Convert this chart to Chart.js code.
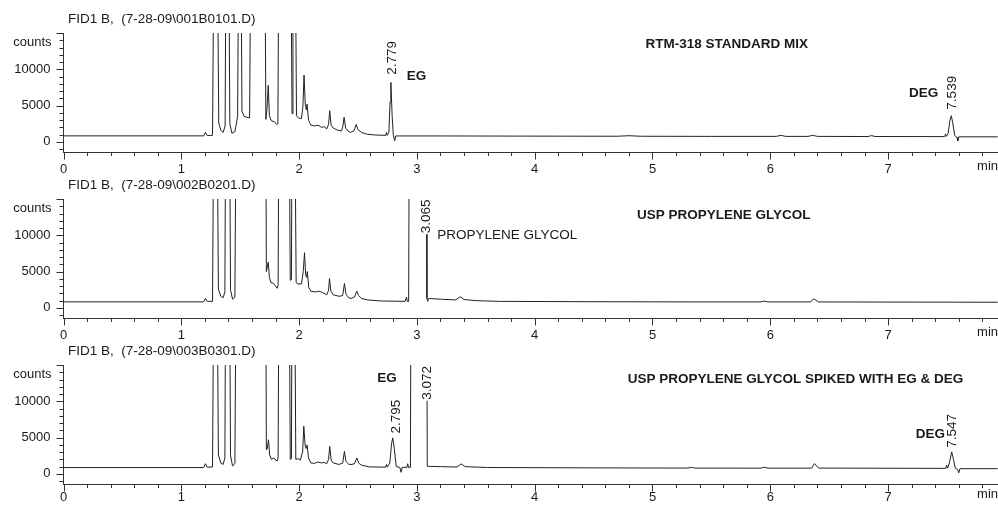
<!DOCTYPE html>
<html><head><meta charset="utf-8">
<script src="https://cdn.jsdelivr.net/npm/chart.js@4.4.1/dist/chart.umd.min.js"></script>
<style>
html,body{margin:0;padding:0;background:#fff;overflow:hidden;width:998px;height:506px;}
.p{position:absolute;left:0;width:998px;}
canvas{display:block;}
</style></head><body>
<div class="p" style="top:0px"><canvas id="c1" width="998" height="190"></canvas></div>
<div class="p" style="top:166px"><canvas id="c2" width="998" height="190"></canvas></div>
<div class="p" style="top:332px"><canvas id="c3" width="998" height="174"></canvas></div>
<script>
// ---- data (retention time in min, detector response in counts) ----
const OFF = 40000; // off-scale (clipped) peak tops
const run1Header = 'FID1 B,  (7-28-09\\001B0101.D)';
const run2Header = 'FID1 B,  (7-28-09\\002B0201.D)';
const run3Header = 'FID1 B,  (7-28-09\\003B0301.D)';
const xTickLabels = ['0','1','2','3','4','5','6','7'];
const yTickLabels = ['0','5000','10000'];
const xUnit = 'min';
const yUnit = 'counts';

const run1Time = [0,1.19,1.205,1.22,1.265,1.283,1.300,1.318,1.335,1.355,1.372,1.383,1.398,1.412,1.43,1.455,1.478,1.492,1.502,1.515,1.535,1.58,1.595,1.705,1.718,1.728,1.738,1.748,1.765,1.79,1.81,1.82,1.832,1.925,1.94,1.948,1.962,1.978,1.995,2.02,2.032,2.042,2.052,2.062,2.068,2.08,2.10,2.13,2.16,2.19,2.21,2.235,2.25,2.26,2.272,2.29,2.33,2.36,2.372,2.382,2.395,2.415,2.435,2.465,2.485,2.50,2.53,2.58,2.65,2.735,2.742,2.748,2.762,2.772,2.779,2.79,2.80,2.812,2.82,3.2,3.8,4.7,4.8,4.9,5.5,6.05,6.09,6.13,6.32,6.36,6.40,6.83,6.86,6.89,7.48,7.488,7.495,7.51,7.525,7.537,7.55,7.565,7.585,7.592,7.6,7.93];
const run1Counts = [830,830,1300,880,900,OFF,OFF,2600,1600,1300,2200,OFF,OFF,2500,1200,1400,3500,OFF,OFF,4200,3500,3300,OFF,OFF,3100,4600,7800,3600,2900,2800,2400,2500,OFF,OFF,3900,OFF,OFF,3600,3300,3200,4800,9200,5200,4400,5200,3000,2300,2200,2300,2000,2100,1800,2400,4300,2300,1900,1600,1500,2200,3400,1900,1500,1300,1500,2400,1700,1300,1050,950,900,1300,900,1300,5500,8200,3500,900,150,820,820,800,780,850,780,760,760,900,760,760,900,760,740,870,740,730,1100,760,1200,3000,3600,2500,900,600,120,700,700];

const run2Time = [0,1.19,1.205,1.22,1.265,1.281,1.298,1.315,1.335,1.355,1.37,1.38,1.405,1.418,1.435,1.455,1.47,1.715,1.722,1.73,1.738,1.748,1.76,1.78,1.80,1.815,1.822,1.832,1.91,1.925,1.935,1.942,1.958,1.975,1.99,2.02,2.035,2.046,2.056,2.064,2.07,2.082,2.10,2.14,2.17,2.2,2.235,2.25,2.258,2.27,2.29,2.34,2.37,2.385,2.398,2.42,2.44,2.47,2.49,2.505,2.53,2.58,2.7,2.9,2.912,2.918,2.93,2.938,3.078,3.085,3.092,3.10,3.2,3.33,3.36,3.375,3.4,3.5,3.7,4.5,5.5,5.92,5.95,5.98,6.34,6.37,6.41,7.93];
const run2Counts = [830,830,1300,900,900,OFF,OFF,2600,1600,1400,2200,OFF,OFF,2500,1200,1500,OFF,OFF,5000,5600,6300,4200,3500,3400,3000,2700,3200,OFF,OFF,3800,3900,OFF,OFF,3500,3300,3300,5000,7600,4500,4200,5000,2800,2300,2200,2300,2100,1800,2400,4050,2300,1800,1600,1700,3360,1900,1400,1300,1500,2300,1700,1300,1100,950,900,1500,900,900,OFF,OFF,1300,900,1300,1200,1100,1450,1500,1150,1000,900,850,820,820,950,820,820,1250,820,780];

const run3Time = [0,1.19,1.205,1.22,1.265,1.281,1.298,1.315,1.335,1.355,1.37,1.38,1.405,1.418,1.435,1.455,1.47,1.715,1.722,1.73,1.74,1.75,1.765,1.785,1.80,1.815,1.822,1.832,1.912,1.925,1.935,1.942,1.958,1.972,1.99,2.01,2.03,2.04,2.052,2.06,2.068,2.08,2.10,2.13,2.16,2.19,2.21,2.235,2.25,2.26,2.272,2.29,2.34,2.37,2.385,2.398,2.42,2.44,2.47,2.49,2.505,2.53,2.6,2.735,2.742,2.748,2.77,2.785,2.795,2.808,2.825,2.855,2.866,2.875,2.915,2.922,2.928,2.945,2.952,3.082,3.088,3.2,3.34,3.376,3.41,3.6,4.5,5.3,5.33,5.36,5.92,5.95,5.98,6.35,6.375,6.41,7.49,7.497,7.505,7.52,7.54,7.555,7.57,7.59,7.60,7.61,7.93];
const run3Counts = [870,870,1400,930,950,OFF,OFF,2600,1500,1300,2200,OFF,OFF,2500,1100,1400,OFF,OFF,3300,3500,4700,2600,2000,2200,1900,1800,2300,OFF,OFF,2000,2100,OFF,OFF,2000,2100,1900,3000,6560,3800,3500,4000,2200,1500,1450,1650,1500,1600,1400,2000,3800,1900,1500,1300,1500,3100,1700,1350,1280,1400,2200,1500,1200,960,930,1300,930,1500,4200,4960,3500,1000,900,220,900,900,1400,900,900,OFF,OFF,1050,1000,950,1380,1000,880,830,800,900,800,790,920,790,790,1420,800,760,1200,780,1500,3030,2000,800,600,140,720,720];

// annotations: text, retention time, counts, style
const run1Notes = [
  {text:'2.779', t:2.793, c:11570, rot:true},
  {text:'EG', t:2.913, c:9020, bold:true, align:'left'},
  {text:'RTM-318 STANDARD MIX', t:4.941, c:13400, bold:true, align:'left'},
  {text:'DEG', t:7.426, c:6730, bold:true, align:'right'},
  {text:'7.539', t:7.542, c:6770, rot:true}
];
const run2Notes = [
  {text:'3.065', t:3.083, c:12620, rot:true},
  {text:'PROPYLENE GLYCOL', t:3.173, c:9950, align:'left'},
  {text:'USP PROPYLENE GLYCOL', t:4.868, c:12760, bold:true, align:'left'}
];
const run3Notes = [
  {text:'EG', t:2.664, c:13130, bold:true, align:'left'},
  {text:'2.795', t:2.829, c:7880, rot:true},
  {text:'3.072', t:3.090, c:12540, rot:true},
  {text:'USP PROPYLENE GLYCOL SPIKED WITH EG & DEG', t:4.789, c:12990, bold:true, align:'left'},
  {text:'DEG', t:7.483, c:5520, bold:true, align:'right'},
  {text:'7.547', t:7.547, c:5940, rot:true}
];

// ---- drawing ----
const FONT = "Arial, 'Liberation Sans', sans-serif";
const INK = '#1a1a1a';
const X_MAX = 7.933, Y_MIN = -1460, Y_MAX = 15000;

const decor = {
  id: 'decor',
  afterDraw(chart) {
    const cfg = chart.options.plugins.decor;
    const {ctx, chartArea: a} = chart;
    const x = chart.scales.x, y = chart.scales.y;
    ctx.save();
    ctx.strokeStyle = '#333'; ctx.lineWidth = 1;
    ctx.beginPath();
    y.ticks.forEach(tk => {
      const py = Math.round(y.getPixelForValue(tk.value)) + 0.5;
      const len = (Math.round(tk.value) % 5000 === 0) ? 7 : 4;
      ctx.moveTo(a.left - len, py); ctx.lineTo(a.left, py);
    });
    x.ticks.forEach(tk => {
      const px = Math.round(x.getPixelForValue(tk.value)) + 0.5;
      const major = Math.abs(tk.value - Math.round(tk.value)) < 1e-6;
      ctx.moveTo(px, a.bottom); ctx.lineTo(px, a.bottom + (major ? 7 : 3.5));
    });
    ctx.stroke();
    ctx.fillStyle = INK;
    ctx.textBaseline = 'middle';
    ctx.font = '13.5px ' + FONT; ctx.textAlign = 'left';
    ctx.fillText(cfg.header, 68, 19);
    ctx.font = '13px ' + FONT; ctx.textAlign = 'right';
    ctx.fillText(yUnit, 51.5, a.top + 9);
    ctx.fillText(xUnit, 998, a.bottom + cfg.labelDy);
    cfg.notes.forEach(n => {
      const px = x.getPixelForValue(n.t), py = y.getPixelForValue(n.c);
      ctx.font = (n.bold ? 'bold ' : '') + '13.5px ' + FONT;
      if (n.rot) {
        ctx.save();
        ctx.translate(px, py); ctx.rotate(-Math.PI / 2);
        const w = ctx.measureText(n.text).width;
        ctx.fillStyle = '#fff'; ctx.fillRect(-w / 2 - 1, -6, w + 2, 12);
        ctx.fillStyle = INK; ctx.textAlign = 'center';
        ctx.fillText(n.text, 0, 0);
        ctx.restore();
      } else {
        ctx.textAlign = n.align || 'center';
        ctx.fillText(n.text, px, py);
      }
    });
    ctx.restore();
  }
};

function isWhole(v) { return Math.abs(v - Math.round(v)) < 1e-6; }

function makePanel(id, header, times, counts, notes, labelDy, tickPad) {
  const canvas = document.getElementById(id);
  const H = canvas.height;
  const pts = times.map((t, i) => ({x: t, y: counts[i]}));
  return new Chart(canvas, {
    type: 'line',
    data: {datasets: [{data: pts, borderColor: '#222', borderWidth: 1, pointRadius: 0, tension: 0, fill: false}]},
    options: {
      responsive: false, animation: false, devicePixelRatio: 1,
      layout: {padding: {top: 33, left: 0, right: 0, bottom: 0}},
      plugins: {legend: {display: false}, tooltip: {enabled: false}, decor: {header, notes, labelDy}},
      scales: {
        x: {
          type: 'linear', min: 0, max: X_MAX,
          afterBuildTicks: s => { const tk = []; for (let k = 0; k * 0.2 <= X_MAX; k++) tk.push({value: Math.round(k * 2) / 10}); s.ticks = tk; },
          afterFit: s => { s.height = H - 152.5; },
          ticks: {autoSkip: false, maxRotation: 0, padding: tickPad, color: INK, font: {family: FONT, size: 13},
            callback: v => isWhole(v) ? (xTickLabels[Math.round(v)] ?? '') : ''},
          grid: {display: true, drawOnChartArea: false, drawTicks: true, tickLength: 7, color: 'transparent', tickColor: 'transparent'},
          border: {display: true, color: '#333', width: 1}
        },
        y: {
          type: 'linear', min: Y_MIN, max: Y_MAX,
          afterBuildTicks: s => { const tk = []; for (let v = -1000; v <= Y_MAX; v += 1000) tk.push({value: v}); s.ticks = tk; },
          afterFit: s => { s.width = 63.5; },
          ticks: {autoSkip: false, padding: 6, color: INK, font: {family: FONT, size: 13},
            callback: v => { const s = String(Math.round(v)); return yTickLabels.includes(s) ? s : ''; }},
          grid: {display: true, drawOnChartArea: false, drawTicks: true, tickLength: 7, color: 'transparent', tickColor: 'transparent'},
          border: {display: true, color: '#333', width: 1}
        }
      }
    },
    plugins: [decor]
  });
}

makePanel('c1', run1Header, run1Time, run1Counts, run1Notes, 14, 2);
makePanel('c2', run2Header, run2Time, run2Counts, run2Notes, 14, 2);
makePanel('c3', run3Header, run3Time, run3Counts, run3Notes, 10, -2);
</script>
</body></html>
